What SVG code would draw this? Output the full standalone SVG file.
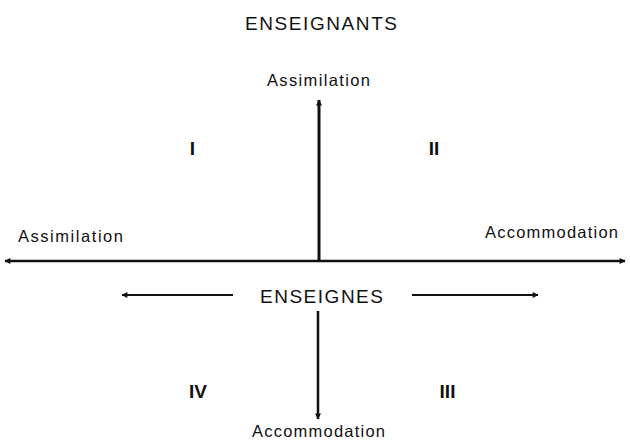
<svg xmlns="http://www.w3.org/2000/svg" width="630" height="443" viewBox="0 0 630 443">
<style>
.t{font-family:"Liberation Sans",Arial,sans-serif;fill:#111;}
.lbl{font-size:16.5px;}
.big{font-size:19px;}
.num{font-size:19px;font-weight:bold;}
.ax{stroke:#111;fill:none;}
</style>
<defs>
<marker id="ah" viewBox="0 0 10 10" refX="9" refY="5" markerWidth="9" markerHeight="6" markerUnits="userSpaceOnUse" orient="auto">
<path d="M0,0 L10,5 L0,10 Z" fill="#111"/>
</marker>
</defs>
<rect width="630" height="443" fill="#fff"/>
<g id="connectors">
<line class="ax" x1="319" y1="261" x2="319" y2="100" stroke-width="3" marker-end="url(#ah)"/>
<line class="ax" x1="318" y1="261" x2="5" y2="261" stroke-width="2.5" marker-end="url(#ah)"/>
<line class="ax" x1="318" y1="261" x2="625" y2="261" stroke-width="2.5" marker-end="url(#ah)"/>
<line class="ax" x1="318" y1="311" x2="318" y2="419" stroke-width="2.5" marker-end="url(#ah)"/>
<line class="ax" x1="233" y1="295" x2="122" y2="295" stroke-width="2" marker-end="url(#ah)"/>
<line class="ax" x1="412" y1="295" x2="538" y2="295" stroke-width="2" marker-end="url(#ah)"/>
</g>
<g id="title"><text class="t big" x="245" y="30" textLength="152" lengthAdjust="spacing">ENSEIGNANTS</text></g>
<g id="top-assimilation"><text class="t lbl" x="267" y="86" textLength="103" lengthAdjust="spacing">Assimilation</text></g>
<g id="left-assimilation"><text class="t lbl" x="18" y="242" textLength="105" lengthAdjust="spacing">Assimilation</text></g>
<g id="right-accommodation"><text class="t lbl" x="485" y="238" textLength="133" lengthAdjust="spacing">Accommodation</text></g>
<g id="bottom-accommodation"><text class="t lbl" x="252" y="437" textLength="133" lengthAdjust="spacing">Accommodation</text></g>
<g id="enseignes"><text class="t big" x="260" y="303" textLength="123" lengthAdjust="spacing">ENSEIGNES</text></g>
<g id="q1"><text class="t num" x="192.5" y="155" text-anchor="middle">I</text></g>
<g id="q2"><text class="t num" x="434" y="155" text-anchor="middle">II</text></g>
<g id="q3"><text class="t num" x="447.5" y="398" text-anchor="middle">III</text></g>
<g id="q4"><text class="t num" x="198" y="398" text-anchor="middle">IV</text></g>
</svg>
